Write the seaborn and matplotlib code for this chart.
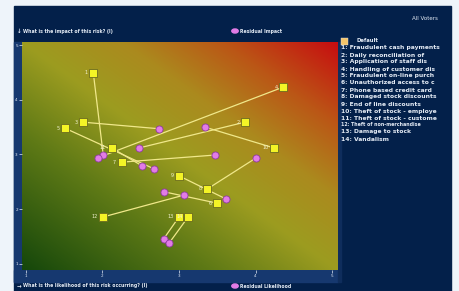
import numpy as np
import pandas as pd
import seaborn as sns
import matplotlib.pyplot as plt
from matplotlib.colors import LinearSegmentedColormap
from matplotlib.patches import Rectangle

# risk numbers and their inherent / residual positions (likelihood, impact)
risk_ids = [1, 2, 3, 4, 5, 6, 7, 8, 9, 10, 11, 12, 13, 14]
inherent_likelihood = [1.88, 3.86, 1.75, 4.36, 1.51, 3.50, 2.25, 3.37, 3.00, 4.24, 2.12, 2.01, 3.00, 3.12]
inherent_impact = [4.49, 3.59, 3.59, 4.23, 3.48, 2.11, 2.86, 2.37, 2.61, 3.12, 3.12, 1.86, 1.86, 1.86]
residual_likelihood = [2.01, 2.48, 2.74, 1.94, 2.67, 2.80, 3.47, 4.01, 3.61, 3.34, 2.52, 3.07, 2.80, 2.87]
residual_impact = [2.99, 3.12, 3.47, 2.94, 2.74, 2.32, 2.99, 2.94, 2.19, 3.50, 2.79, 2.26, 1.46, 1.38]

risk_names = [
    "Fraudulent cash payments",
    "Daily reconciliation of",
    "Application of staff dis",
    "Handling of customer dis",
    "Fraudulent on-line purch",
    "Unauthorized access to c",
    "Phone based credit card",
    "Damaged stock discounts",
    "End of line discounts",
    "Theft of stock - employe",
    "Theft of stock - custome",
    "Theft of non-merchandise",
    "Damage to stock",
    "Vandalism",
]
axis_ticks = [1, 2, 3, 4, 5]

W, H = 460, 291
navy = "#03204a"
band = "#16386f"
txt = "#e4ebf5"

fig = plt.figure(figsize=(W / 100, H / 100), dpi=100, facecolor="#eef4fa")


def fig_rect(x, y, w, h, **kw):
    # pixel box measured from the top-left corner
    fig.patches.append(Rectangle((x / W, 1 - (y + h) / H), w / W, h / H,
                                 transform=fig.transFigure, zorder=-1, **kw))


# dark panel and axis bands
fig_rect(14, 6, 437, 285, color=navy)
fig_rect(14, 42, 8, 240, color=band)
fig_rect(14, 270, 324, 12, color=band)
fig_rect(338, 42, 3, 240, color="#0f2d5c")

ax = fig.add_axes([22 / W, 21 / H, 316 / W, 228 / H])
ax.set_zorder(2)
xlim = (0.948, 5.078)
ylim = (0.89, 5.055)

# diagonal green -> yellow -> red background
cmap = LinearSegmentedColormap.from_list("risk", [
    (0.0, "#15470b"), (0.3, "#5f7a16"), (0.5, "#9c9c20"),
    (0.66, "#ab8a1e"), (0.82, "#bb5616"), (1.0, "#c70d10")])
u, v = np.meshgrid(np.linspace(0, 1, 300), np.linspace(0, 1, 300))
ax.imshow((u + v) / 2, cmap=cmap, origin="lower", aspect="auto",
          extent=[xlim[0], xlim[1], ylim[0], ylim[1]], zorder=0)

df = pd.DataFrame({
    "risk": risk_ids,
    "il": inherent_likelihood, "ii": inherent_impact,
    "rl": residual_likelihood, "ri": residual_impact,
})
lines = pd.concat([
    df[["risk", "il", "ii"]].rename(columns={"il": "x", "ii": "y"}),
    df[["risk", "rl", "ri"]].rename(columns={"rl": "x", "ri": "y"}),
])
sns.lineplot(data=lines, x="x", y="y", units="risk", estimator=None, sort=False,
             color="#f0e88a", lw=0.9, ax=ax, zorder=2)
sns.scatterplot(data=df, x="rl", y="ri", marker="o", s=26, color="#e27ce6",
                edgecolor="#8e3aa0", linewidth=0.6, ax=ax, zorder=3)
sns.scatterplot(data=df, x="il", y="ii", marker="s", s=26, color="#f4f426",
                edgecolor="#6b6b20", linewidth=0.6, ax=ax, zorder=4)
for r, x, y in zip(risk_ids, inherent_likelihood, inherent_impact):
    ax.annotate(str(r), (x, y), xytext=(-4, 0), textcoords="offset points",
                ha="right", va="center", fontsize=3.5, color="#f2f2d0", zorder=5)

ax.set_xlim(xlim)
ax.set_ylim(ylim)
ax.set_xticks(axis_ticks)
ax.set_yticks(axis_ticks)
ax.set_xlabel("")
ax.set_ylabel("")
ax.tick_params(colors=txt, labelsize=3, length=2, width=0.5, pad=1)
for s in ax.spines.values():
    s.set_visible(False)

# header / footer captions
fig.text(17 / W, 1 - 31 / H, "↓", fontsize=4, color=txt, fontweight="bold", va="center")
fig.text(23 / W, 1 - 31 / H, "What is the impact of this risk? (I)", fontsize=3.3,
         color=txt, fontweight="bold", va="center")
fig.text(17 / W, 1 - 286 / H, "→", fontsize=4, color=txt, fontweight="bold", va="center")
fig.text(23 / W, 1 - 286 / H, "What is the likelihood of this risk occurring? (I)", fontsize=3.3,
         color=txt, fontweight="bold", va="center")
for yy, label in [(31, "Residual Impact"), (286, "Residual Likelihood")]:
    fig.patches.append(plt.Circle((235 / W, 1 - yy / H), 3.2 / W, transform=fig.transFigure,
                                  color="#e27ce6"))
    fig.text(240 / W, 1 - yy / H, label, fontsize=3.3, color=txt,
             fontweight="bold", va="center")
fig.text(412 / W, 1 - 19 / H, "All Voters", fontsize=4, color=txt, va="center")

# legend on the right
fig.patches.append(Rectangle((341 / W, 1 - 45 / H), 7 / W, 7 / H, transform=fig.transFigure,
                             facecolor="#f4c46a", edgecolor="#e0e0e0", linewidth=0.3))
fig.text(357 / W, 1 - 41 / H, "Default", fontsize=3.8, color=txt, fontweight="bold", va="center")
for i, (r, name) in enumerate(zip(risk_ids, risk_names)):
    fig.text(341 / W, 1 - (48 + 7 * i) / H, f"{r}: {name}",
             fontsize=3.4 if r == 12 else 4.3, color=txt, fontweight="bold", va="center")

fig.savefig("out.png", dpi=100, facecolor=fig.get_facecolor())
